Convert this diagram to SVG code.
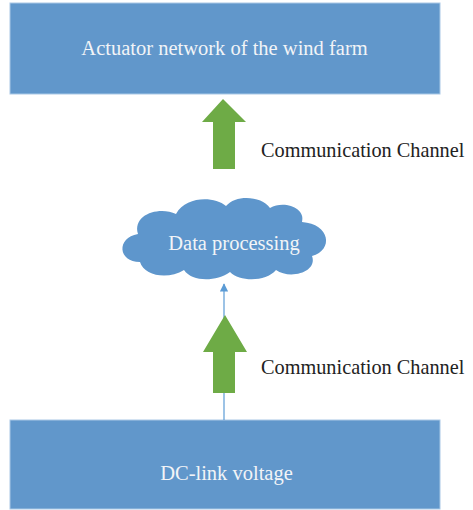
<svg xmlns="http://www.w3.org/2000/svg" width="473" height="510" viewBox="0 0 473 510">
  <style>
    .box { fill: #6197cb; stroke: #a9c8e6; stroke-width: 1; }
    .cloud { fill: #5e96cc; }
    .label { font-family: "Liberation Serif", "Times New Roman", serif; fill: #f2f4f7; text-anchor: middle; font-size: 20.5px; }
    .note { font-family: "Liberation Serif", "Times New Roman", serif; fill: #222222; font-size: 20.3px; }
    .big { fill: #6eab46; }
  </style>
  <defs>
    <marker id="tip" viewBox="0 0 10 10" refX="9" refY="5" markerWidth="7" markerHeight="7" orient="auto">
      <path d="M0,0 L10,5 L0,10 z" fill="#5b9bd5"/>
    </marker>
  </defs>
  <rect width="473" height="510" fill="#ffffff"/>

  <g id="actuator-network">
    <rect class="box" x="10" y="3" width="430" height="91"/>
    <text class="label" x="224.5" y="55">Actuator network of the wind farm</text>
  </g>

  <g id="data-processing">
    <path class="cloud" d="M140,262 C118,262 116,238 138,234 C132,214 160,206 176,214 C186,196 214,196 226,206 C236,194 262,196 270,208 C284,200 306,208 302,222 C330,224 334,250 312,256 C318,272 290,280 276,270 C266,282 240,282 230,272 C216,282 192,282 184,270 C168,280 144,276 140,262 Z"/>
    <text class="label" x="234" y="250">Data processing</text>
  </g>

  <g id="dc-link-voltage">
    <rect class="box" x="10" y="420" width="430" height="89"/>
    <text class="label" x="226.5" y="480">DC-link voltage</text>
  </g>

  <g id="connectors">
    <line x1="224" y1="420" x2="224" y2="284" stroke="#5b9bd5" stroke-width="1.2" marker-end="url(#tip)"/>
    <polygon class="big" points="223,99 246,122 235,122 235,169 213,169 213,122 202,122"/>
    <text class="note" x="261" y="157">Communication Channel</text>
    <polygon class="big" points="225,315 247,352 235,352 235,393 213,393 213,352 203,352"/>
    <text class="note" x="261" y="374">Communication Channel</text>
  </g>
</svg>
